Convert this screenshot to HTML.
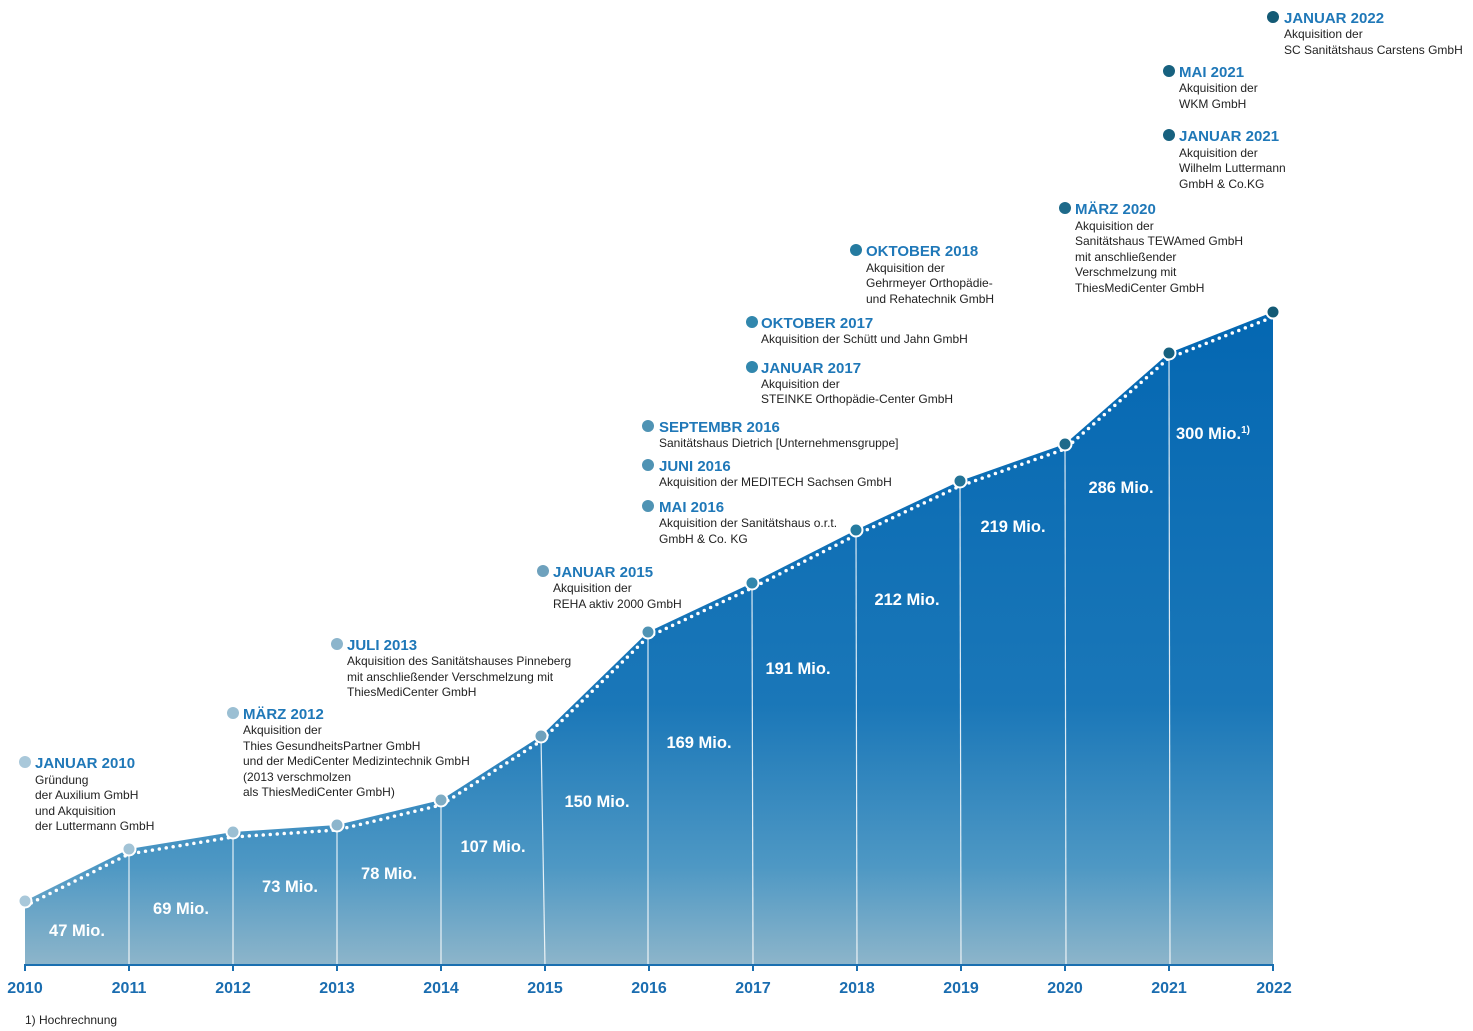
<!DOCTYPE html>
<html><head><meta charset="utf-8"><style>
html,body{margin:0;padding:0;background:#fff;}
svg{display:block;font-family:"Liberation Sans",sans-serif;}
.t{font-weight:bold;font-size:15px;fill:#1f78b8;}
.b{font-size:12px;fill:#222;}
.v{font-weight:bold;font-size:16.5px;fill:#fff;text-anchor:middle;}
.y{font-weight:bold;font-size:16px;fill:#1a6db0;text-anchor:middle;}
</style></head><body>
<svg width="1473" height="1031" viewBox="0 0 1473 1031" xmlns="http://www.w3.org/2000/svg">
<defs>
<linearGradient id="g" x1="0" y1="312" x2="0" y2="965" gradientUnits="userSpaceOnUse">
<stop offset="0" stop-color="#0467b2"/>
<stop offset="0.6" stop-color="#1a77b8"/>
<stop offset="0.85" stop-color="#4e98c4"/>
<stop offset="1" stop-color="#8db5ca"/>
</linearGradient>
</defs>
<polygon fill="url(#g)" points="25,901 129,849 233,832 337,825 441,800 541,736 648,632 752,583 856,530 960,481 1065,444 1169,353 1273,312 1273,965 25,965"/>
<g stroke="#fff" stroke-width="1.2" opacity="0.85">
<line x1="129" y1="849" x2="129" y2="965"/><line x1="233" y1="832" x2="233" y2="965"/>
<line x1="337" y1="825" x2="337" y2="965"/><line x1="441" y1="800" x2="441" y2="965"/>
<line x1="541" y1="736" x2="545" y2="965"/><line x1="648" y1="632" x2="648" y2="965"/>
<line x1="752" y1="583" x2="753" y2="965"/><line x1="856" y1="530" x2="857" y2="965"/>
<line x1="960" y1="481" x2="961" y2="965"/><line x1="1065" y1="444" x2="1066" y2="965"/>
<line x1="1169" y1="353" x2="1170" y2="965"/>
</g>
<polyline fill="none" stroke="#fff" stroke-width="3.5" stroke-linecap="round" stroke-dasharray="0 7" points="25,906 129,854 233,837 337,830 441,805 541,741 648,637 752,588 856,535 960,486 1065,449 1169,358 1273,317"/>
<line x1="25" y1="965" x2="1274" y2="965" stroke="#1a6fb0" stroke-width="2"/>
<g stroke="#1a6fb0" stroke-width="2">
<line x1="25" y1="964" x2="25" y2="971"/><line x1="129" y1="964" x2="129" y2="971"/><line x1="233" y1="964" x2="233" y2="971"/><line x1="337" y1="964" x2="337" y2="971"/><line x1="441" y1="964" x2="441" y2="971"/><line x1="545" y1="964" x2="545" y2="971"/><line x1="649" y1="964" x2="649" y2="971"/><line x1="753" y1="964" x2="753" y2="971"/><line x1="857" y1="964" x2="857" y2="971"/><line x1="961" y1="964" x2="961" y2="971"/><line x1="1065" y1="964" x2="1065" y2="971"/><line x1="1169" y1="964" x2="1169" y2="971"/><line x1="1273" y1="964" x2="1273" y2="971"/>
</g>
<g stroke="#fff" stroke-width="2">
<circle cx="25" cy="901" r="6.5" fill="#a9c8da"/><circle cx="129" cy="849" r="6.5" fill="#a2c3d6"/>
<circle cx="233" cy="832" r="6.5" fill="#9bbfd3"/><circle cx="337" cy="825" r="6.5" fill="#8cb5cc"/>
<circle cx="441" cy="800" r="6.5" fill="#7eacc4"/><circle cx="541" cy="736" r="6.5" fill="#6ea1bd"/>
<circle cx="648" cy="632" r="6.5" fill="#4f93b4"/><circle cx="752" cy="583" r="6.5" fill="#3187ad"/>
<circle cx="856" cy="530" r="6.5" fill="#257ba0"/><circle cx="960" cy="481" r="6.5" fill="#237396"/>
<circle cx="1065" cy="444" r="6.5" fill="#1e6a8a"/><circle cx="1169" cy="353" r="6.5" fill="#17617f"/>
<circle cx="1273" cy="312" r="6.5" fill="#135a75"/>
</g>
<g>
<text class="v" x="77" y="936">47 Mio.</text><text class="v" x="181" y="914">69 Mio.</text>
<text class="v" x="290" y="892">73 Mio.</text><text class="v" x="389" y="879">78 Mio.</text>
<text class="v" x="493" y="852">107 Mio.</text><text class="v" x="597" y="807">150 Mio.</text>
<text class="v" x="699" y="748">169 Mio.</text><text class="v" x="798" y="674">191 Mio.</text>
<text class="v" x="907" y="605">212 Mio.</text><text class="v" x="1013" y="532">219 Mio.</text>
<text class="v" x="1121" y="493">286 Mio.</text><text class="v" x="1213" y="439">300 Mio.<tspan font-size="10" dy="-6">1)</tspan></text>
</g>
<g>
<text class="y" x="25" y="993">2010</text><text class="y" x="129" y="993">2011</text><text class="y" x="233" y="993">2012</text><text class="y" x="337" y="993">2013</text><text class="y" x="441" y="993">2014</text><text class="y" x="545" y="993">2015</text><text class="y" x="649" y="993">2016</text><text class="y" x="753" y="993">2017</text><text class="y" x="857" y="993">2018</text><text class="y" x="961" y="993">2019</text><text class="y" x="1065" y="993">2020</text><text class="y" x="1169" y="993">2021</text><text class="y" x="1274" y="993">2022</text>
</g>
<text class="b" x="25" y="1024">1) Hochrechnung</text>

<circle cx="25" cy="762" r="6" fill="#a9c8da"/>
<text class="t" x="35" y="768">JANUAR 2010</text>
<text class="b" x="35" y="784">Gründung</text><text class="b" x="35" y="799">der Auxilium GmbH</text><text class="b" x="35" y="815">und Akquisition</text><text class="b" x="35" y="830">der Luttermann GmbH</text>

<circle cx="233" cy="713" r="6" fill="#9bbfd3"/>
<text class="t" x="243" y="719">MÄRZ 2012</text>
<text class="b" x="243" y="734">Akquisition der</text><text class="b" x="243" y="750">Thies GesundheitsPartner GmbH</text><text class="b" x="243" y="765">und der MediCenter Medizintechnik GmbH</text><text class="b" x="243" y="781">(2013 verschmolzen</text><text class="b" x="243" y="796">als ThiesMediCenter GmbH)</text>

<circle cx="337" cy="644" r="6" fill="#8cb5cc"/>
<text class="t" x="347" y="650">JULI 2013</text>
<text class="b" x="347" y="665">Akquisition des Sanitätshauses Pinneberg</text><text class="b" x="347" y="681">mit anschließender Verschmelzung mit</text><text class="b" x="347" y="696">ThiesMediCenter GmbH</text>

<circle cx="543" cy="571" r="6" fill="#6ea1bd"/>
<text class="t" x="553" y="577">JANUAR 2015</text>
<text class="b" x="553" y="592">Akquisition der</text><text class="b" x="553" y="608">REHA aktiv 2000 GmbH</text>

<circle cx="648" cy="506" r="6" fill="#4f93b4"/>
<text class="t" x="659" y="512">MAI 2016</text>
<text class="b" x="659" y="527">Akquisition der Sanitätshaus o.r.t.</text><text class="b" x="659" y="543">GmbH &amp; Co. KG</text>

<circle cx="648" cy="465" r="6" fill="#4f93b4"/>
<text class="t" x="659" y="471">JUNI 2016</text>
<text class="b" x="659" y="486">Akquisition der MEDITECH Sachsen GmbH</text>

<circle cx="648" cy="426" r="6" fill="#4f93b4"/>
<text class="t" x="659" y="432">SEPTEMBR 2016</text>
<text class="b" x="659" y="447">Sanitätshaus Dietrich [Unternehmensgruppe]</text>

<circle cx="752" cy="367" r="6" fill="#3187ad"/>
<text class="t" x="761" y="373">JANUAR 2017</text>
<text class="b" x="761" y="388">Akquisition der</text><text class="b" x="761" y="403">STEINKE Orthopädie-Center GmbH</text>

<circle cx="752" cy="322" r="6" fill="#3187ad"/>
<text class="t" x="761" y="328">OKTOBER 2017</text>
<text class="b" x="761" y="343">Akquisition der Schütt und Jahn GmbH</text>

<circle cx="856" cy="250" r="6" fill="#257ba0"/>
<text class="t" x="866" y="256">OKTOBER 2018</text>
<text class="b" x="866" y="272">Akquisition der</text><text class="b" x="866" y="287">Gehrmeyer Orthopädie-</text><text class="b" x="866" y="303">und Rehatechnik GmbH</text>

<circle cx="1065" cy="208" r="6" fill="#1e6a8a"/>
<text class="t" x="1075" y="214">MÄRZ 2020</text>
<text class="b" x="1075" y="230">Akquisition der</text><text class="b" x="1075" y="245">Sanitätshaus TEWAmed GmbH</text><text class="b" x="1075" y="261">mit anschließender</text><text class="b" x="1075" y="276">Verschmelzung mit</text><text class="b" x="1075" y="292">ThiesMediCenter GmbH</text>

<circle cx="1169" cy="135" r="6" fill="#17617f"/>
<text class="t" x="1179" y="141">JANUAR 2021</text>
<text class="b" x="1179" y="157">Akquisition der</text><text class="b" x="1179" y="172">Wilhelm Luttermann</text><text class="b" x="1179" y="188">GmbH &amp; Co.KG</text>

<circle cx="1169" cy="71" r="6" fill="#17617f"/>
<text class="t" x="1179" y="77">MAI 2021</text>
<text class="b" x="1179" y="92">Akquisition der</text><text class="b" x="1179" y="108">WKM GmbH</text>

<circle cx="1273" cy="17" r="6" fill="#135a75"/>
<text class="t" x="1284" y="23">JANUAR 2022</text>
<text class="b" x="1284" y="38">Akquisition der</text><text class="b" x="1284" y="54">SC Sanitätshaus Carstens GmbH</text>
</svg>
</body></html>
